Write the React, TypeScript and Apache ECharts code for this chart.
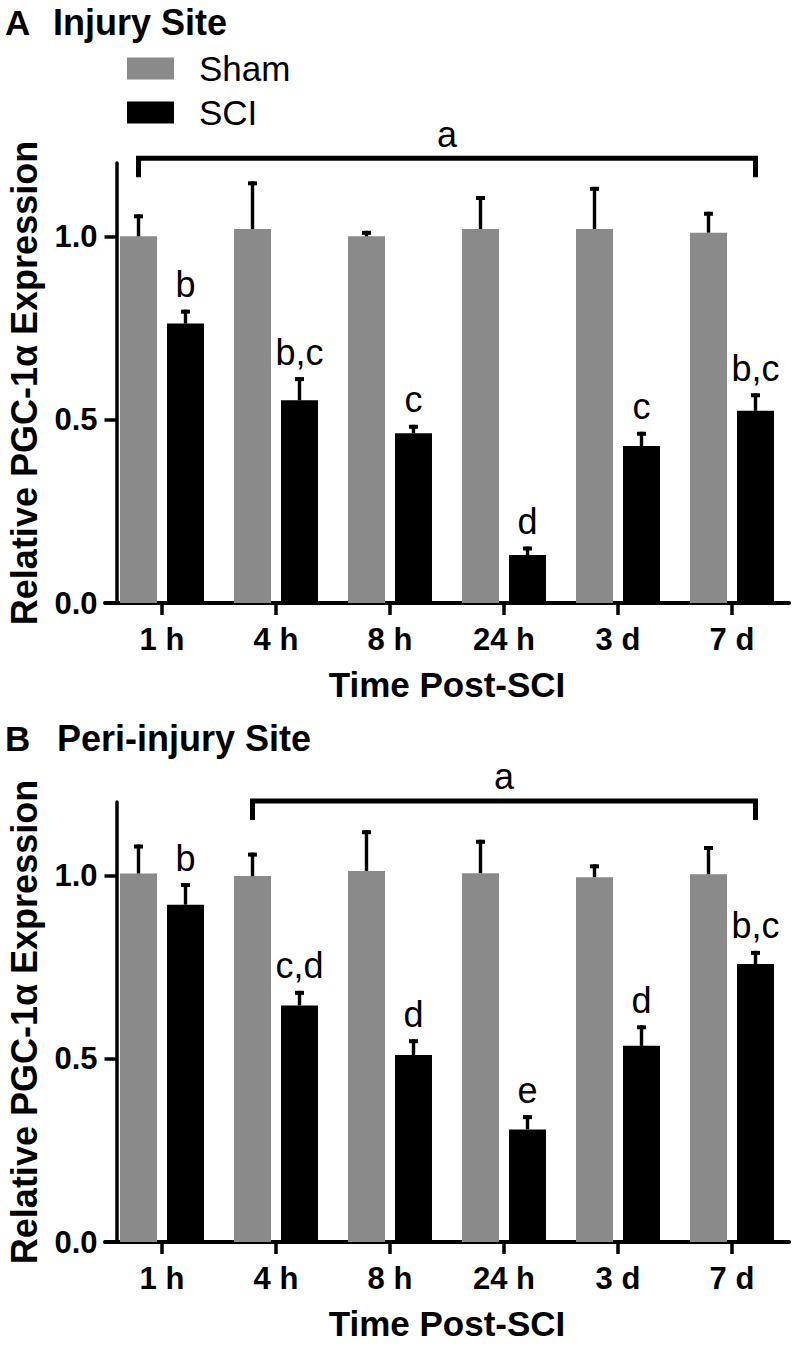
import React, { useEffect, useRef } from "react";
import * as echarts from "echarts";

// ---------- data ----------
const categories = ["1 h", "4 h", "8 h", "24 h", "3 d", "7 d"];
const yTicks = [0, 0.5, 1.0];
const seriesNames = ["Sham", "SCI"];

// Panel A: Injury Site
const shamA = [1.0, 1.02, 1.0, 1.02, 1.02, 1.01];
const shamErrA = [0.06, 0.13, 0.015, 0.09, 0.115, 0.057];
const sciA = [0.762, 0.553, 0.463, 0.131, 0.428, 0.524];
const sciErrA = [0.038, 0.063, 0.023, 0.023, 0.039, 0.048];
const sciLabelsA = ["b", "b,c", "c", "d", "c", "b,c"];
const bracketA = [0, 5, 1.213]; // start category (Sham), end category (SCI), level
const bracketLabelA = "a";

// Panel B: Peri-injury Site
const shamB = [1.005, 0.998, 1.012, 1.006, 0.995, 1.003];
const shamErrB = [0.079, 0.064, 0.111, 0.091, 0.035, 0.077];
const sciB = [0.92, 0.645, 0.51, 0.307, 0.535, 0.758];
const sciErrB = [0.059, 0.04, 0.043, 0.039, 0.056, 0.036];
const sciLabelsB = ["b", "c,d", "d", "e", "d", "b,c"];
const bracketB = [1, 5, 1.203];
const bracketLabelB = "a";

const panelTitles = [
  { letter: "A", text: "Injury Site" },
  { letter: "B", text: "Peri-injury Site" },
];
const xAxisTitle = "Time Post-SCI";
const yAxisTitle = "Relative PGC-1\u03b1 Expression";

// ---------- styles ----------
const FONT = "'Liberation Sans', Arial, Helvetica, sans-serif";
const GRAY = "#8a8a8a";
const BAR_W = 37;
const BAR_GAP = 10;
const OFF = (BAR_W + BAR_GAP) / 2;
const GRID_TOPS = [163, 802];
const GRID_H = 440;

function errorSeries(gi: number, vals: number[], errs: number[], off: number, id: string) {
  return {
    type: "custom",
    id,
    name: id,
    xAxisIndex: gi,
    yAxisIndex: gi,
    clip: false,
    silent: true,
    z: 3,
    data: vals.map((v, i) => [i, v, errs[i]]),
    encode: { x: 0, y: 1 },
    renderItem: (params: any, api: any) => {
      const i = api.value(0);
      const v = api.value(1);
      const e = api.value(2);
      const b = api.coord([i, v]);
      const t = api.coord([i, v + e]);
      const cx = b[0] + off;
      return {
        type: "group",
        children: [
          { type: "rect", shape: { x: cx - 1.7, y: t[1], width: 3.4, height: b[1] - t[1] }, style: { fill: "#000" } },
          { type: "rect", shape: { x: cx - 4.5, y: t[1], width: 9, height: 4 }, style: { fill: "#000" } },
        ],
      };
    },
  };
}

function letterSeries(gi: number, vals: number[], errs: number[], labels: string[], off: number, id: string) {
  return {
    type: "custom",
    id,
    name: id,
    xAxisIndex: gi,
    yAxisIndex: gi,
    clip: false,
    silent: true,
    z: 4,
    data: vals.map((v, i) => [i, v + errs[i]]),
    encode: { x: 0, y: 1 },
    renderItem: (params: any, api: any) => {
      const p = api.coord([api.value(0), api.value(1)]);
      return {
        type: "text",
        x: p[0] + off,
        y: p[1] - 7,
        style: {
          text: labels[params.dataIndex],
          fontSize: 36,
          fontFamily: FONT,
          fill: "#000",
          align: "center",
          verticalAlign: "bottom",
        },
      };
    },
  };
}

function bracketSeries(gi: number, br: number[], label: string, id: string) {
  return {
    type: "custom",
    id,
    name: id,
    xAxisIndex: gi,
    yAxisIndex: gi,
    clip: false,
    silent: true,
    z: 4,
    data: [br],
    encode: { x: 0, y: 2 },
    renderItem: (params: any, api: any) => {
      const p1 = api.coord([api.value(0), api.value(2)]);
      const p2 = api.coord([api.value(1), api.value(2)]);
      const x1 = p1[0] - OFF;
      const x2 = p2[0] + OFF;
      const y = p1[1];
      const drop = 19;
      return {
        type: "group",
        children: [
          {
            type: "polyline",
            shape: { points: [[x1, y + drop], [x1, y], [x2, y], [x2, y + drop]] },
            style: { stroke: "#000", lineWidth: 5, fill: null, lineJoin: "miter", lineCap: "butt" },
          },
          {
            type: "text",
            x: (x1 + x2) / 2,
            y: y - 6,
            style: { text: label, fontSize: 36, fontFamily: FONT, fill: "#000", align: "center", verticalAlign: "bottom" },
          },
        ],
      };
    },
  };
}

function xAxisFor(gi: number) {
  return {
    type: "category",
    gridIndex: gi,
    data: categories,
    axisLine: { show: true, lineStyle: { color: "#000", width: 4 } },
    axisTick: { show: true, alignWithLabel: true, length: 12, lineStyle: { color: "#000", width: 3.5 } },
    axisLabel: { fontSize: 31, fontWeight: "bold", color: "#000", margin: 21, fontFamily: FONT },
    name: xAxisTitle,
    nameLocation: "middle",
    nameGap: 64,
    nameTextStyle: { fontSize: 35, fontWeight: "bold", color: "#000", fontFamily: FONT },
  };
}

function yAxisFor(gi: number) {
  return {
    type: "value",
    gridIndex: gi,
    min: 0,
    max: 1.2,
    interval: 0.5,
    offset: -11.5,
    axisLine: { show: true, lineStyle: { color: "#000", width: 3.5 } },
    axisTick: { show: true, length: 12, lineStyle: { color: "#000", width: 3.5 }, customValues: yTicks },
    axisLabel: {
      customValues: yTicks,
      formatter: (v: number) => v.toFixed(1),
      fontSize: 31,
      fontWeight: "bold",
      color: "#000",
      margin: 19,
      fontFamily: FONT,
    },
    splitLine: { show: false },
    name: yAxisTitle,
    nameLocation: "middle",
    nameGap: 74,
    nameTextStyle: { fontSize: 36, fontWeight: "bold", color: "#000", fontFamily: FONT },
  };
}

function barSeries(gi: number, name: string, data: number[], color: string) {
  return {
    type: "bar",
    name,
    xAxisIndex: gi,
    yAxisIndex: gi,
    data,
    barWidth: BAR_W,
    barGap: "27%",
    itemStyle: { color },
    z: 2,
  };
}

export default function App() {
  const ref = useRef<HTMLDivElement>(null);

  useEffect(() => {
    document.body.style.margin = "0";
    if (!ref.current) return;
    const chart = echarts.init(ref.current, undefined, { renderer: "svg" });

    const titleGraphics: any[] = [];
    const titleY = [22, 738];
    panelTitles.forEach((t, k) => {
      titleGraphics.push({
        type: "text",
        x: 5,
        y: titleY[k],
        style: { text: t.letter, fontSize: 35, fontWeight: "bold", fontFamily: FONT, fill: "#000", verticalAlign: "middle" },
      });
      titleGraphics.push({
        type: "text",
        x: k === 0 ? 53 : 57,
        y: titleY[k],
        style: { text: t.text, fontSize: 36, fontWeight: "bold", fontFamily: FONT, fill: "#000", verticalAlign: "middle" },
      });
    });

    const option: any = {
      animation: false,
      backgroundColor: "#fff",
      textStyle: { fontFamily: FONT },
      grid: GRID_TOPS.map((top) => ({
        left: 105,
        right: 3,
        top,
        height: GRID_H,
        containLabel: false,
        outerBoundsMode: "none",
      })),
      legend: {
        data: seriesNames,
        orient: "vertical",
        left: 127,
        top: 51,
        padding: 0,
        itemWidth: 47,
        itemHeight: 22,
        itemGap: 9,
        icon: "rect",
        selectedMode: false,
        textStyle: { fontSize: 35, color: "#000", fontFamily: FONT, padding: [0, 0, 0, 20] },
      },
      xAxis: [xAxisFor(0), xAxisFor(1)],
      yAxis: [yAxisFor(0), yAxisFor(1)],
      graphic: titleGraphics,
      series: [
        barSeries(0, seriesNames[0], shamA, GRAY),
        barSeries(0, seriesNames[1], sciA, "#000"),
        errorSeries(0, shamA, shamErrA, -OFF, "errShamA"),
        errorSeries(0, sciA, sciErrA, OFF, "errSciA"),
        letterSeries(0, sciA, sciErrA, sciLabelsA, OFF, "lblA"),
        bracketSeries(0, bracketA, bracketLabelA, "brA"),
        barSeries(1, seriesNames[0], shamB, GRAY),
        barSeries(1, seriesNames[1], sciB, "#000"),
        errorSeries(1, shamB, shamErrB, -OFF, "errShamB"),
        errorSeries(1, sciB, sciErrB, OFF, "errSciB"),
        letterSeries(1, sciB, sciErrB, sciLabelsB, OFF, "lblB"),
        bracketSeries(1, bracketB, bracketLabelB, "brB"),
      ],
    };
    chart.setOption(option);
    return () => chart.dispose();
  }, []);

  return <div ref={ref} style={{ width: 792, height: 1350 }} />;
}
